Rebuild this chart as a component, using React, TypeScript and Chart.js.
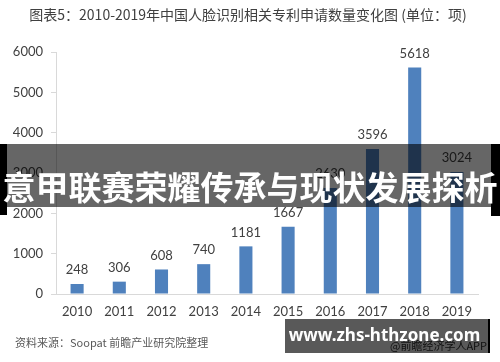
import React, { useEffect, useRef } from "react";
import { Chart, registerables } from "chart.js";

Chart.register(...registerables);

const years = ["2010", "2011", "2012", "2013", "2014", "2015", "2016", "2017", "2018", "2019"];
const patents = [248, 306, 608, 740, 1181, 1667, 2630, 3596, 5618, 3024];
const titleText = "图表5：2010-2019年中国人脸识别相关专利申请数量变化图 (单位：项)";
const sourceText = "资料来源：Soopat 前瞻产业研究院整理";
const bannerText = "意甲联赛荣耀传承与现状发展探析";
const siteText = "www.zhs-hthzone.com";
const appText = "@前瞻经济学人APP";

const numFont = "Lato, 'Liberation Sans', sans-serif";
const cjkFont = "'Noto Sans CJK SC', 'Noto Sans', sans-serif";

const extrasPlugin = {
  id: "extras",
  afterDatasetsDraw(chart: any) {
    const ctx = chart.ctx;
    ctx.save();
    const meta = chart.getDatasetMeta(0);
    ctx.font = `13px ${numFont}`;
    ctx.fillStyle = "#404040";
    ctx.textAlign = "center";
    ctx.textBaseline = "middle";
    meta.data.forEach((el: any, i: number) => {
      ctx.fillText(String(patents[i]), el.x, el.y - 14);
    });
    ctx.font = `14px ${cjkFont}`;
    ctx.fillStyle = "#404040";
    ctx.fillText(titleText, 248, 15);
    ctx.font = `11px ${cjkFont}`;
    ctx.fillStyle = "#595959";
    ctx.textAlign = "left";
    ctx.fillText(sourceText, 15, 343);
    ctx.restore();
  },
};

export default function App() {
  const ref = useRef<HTMLCanvasElement | null>(null);
  useEffect(() => {
    document.body.style.margin = "0";
    const chart = new Chart(ref.current as HTMLCanvasElement, {
      type: "bar",
      data: {
        labels: years,
        datasets: [
          {
            data: patents,
            backgroundColor: "#4f81bd",
            categoryPercentage: 1,
            barPercentage: 0.31,
          },
        ],
      },
      options: {
        animation: false,
        responsive: false,
        devicePixelRatio: 1,
        layout: { padding: { top: 52, right: 22, bottom: 0, left: 0 } },
        plugins: {
          legend: { display: false },
          title: { display: false },
          tooltip: { enabled: false },
        },
        scales: {
          x: {
            grid: { display: false, drawTicks: false },
            border: { display: true, color: "#d9d9d9" },
            ticks: { font: { size: 13, family: numFont }, color: "#404040", padding: 10 },
            afterFit(scale: any) {
              scale.height = 68;
            },
          },
          y: {
            min: 0,
            max: 6000,
            ticks: {
              stepSize: 1000,
              font: { size: 13, family: numFont },
              color: "#404040",
              padding: 8,
              callback: (v: any) => String(v),
            },
            grid: { drawOnChartArea: false, tickLength: 5, color: "#d9d9d9" },
            border: { display: true, color: "#d9d9d9" },
            afterFit(scale: any) {
              scale.width = 56;
            },
          },
        },
      },
      plugins: [extrasPlugin],
    } as any);
    return () => chart.destroy();
  }, []);

  return (
    <div style={{ position: "relative", width: 500, height: 362, background: "#fff", overflow: "hidden" }}>
      <canvas ref={ref} width={500} height={362} style={{ position: "absolute", left: 0, top: 0 }} />
      <div style={{ position: "absolute", left: 0, top: 144, width: 7, height: 71, background: "#000" }} />
      <div style={{ position: "absolute", left: 491, top: 144, width: 9, height: 72, background: "#000" }} />
      <div style={{ position: "absolute", left: 7, top: 144, width: 484, height: 63, background: "rgba(0,0,0,0.6)" }} />
      <div
        style={{
          position: "absolute",
          left: 0,
          top: 164,
          width: 500,
          textAlign: "center",
          color: "#fff",
          fontFamily: cjkFont,
          fontWeight: 700,
          fontSize: 33,
          lineHeight: "44px",
          whiteSpace: "nowrap",
        }}
      >
        {bannerText}
      </div>
      <div
        style={{
          position: "absolute",
          left: 390,
          top: 338,
          fontFamily: cjkFont,
          fontSize: 11,
          color: "#333",
          whiteSpace: "nowrap",
          lineHeight: "14px",
        }}
      >
        {appText}
      </div>
      <div style={{ position: "absolute", left: 285, top: 319, width: 203, height: 34, background: "rgba(0,0,0,0.65)" }} />
      <div style={{ position: "absolute", left: 488, top: 319, width: 2, height: 34, background: "#000" }} />
      <div
        style={{
          position: "absolute",
          left: 283,
          top: 322,
          width: 203,
          textAlign: "center",
          color: "#fff",
          fontFamily: "'Noto Sans', 'DejaVu Sans', sans-serif",
          fontWeight: 700,
          fontSize: 17,
          lineHeight: "26px",
          whiteSpace: "nowrap",
        }}
      >
        {siteText}
      </div>
    </div>
  );
}
